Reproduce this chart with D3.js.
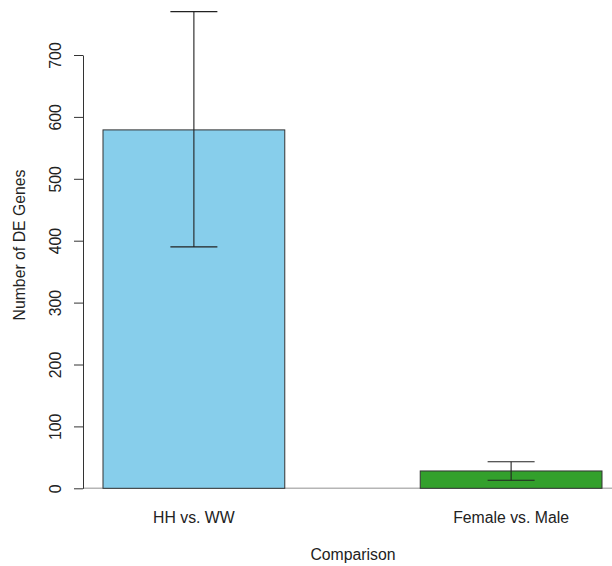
<!DOCTYPE html>
<html>
<head>
<meta charset="utf-8">
<script src="https://cdn.jsdelivr.net/npm/d3@7"></script>
<style>
  html, body { margin: 0; padding: 0; background: #fff; }
  svg text { font-family: "Liberation Sans", Arial, sans-serif; fill: #222; }
</style>
</head>
<body>
<svg id="chart" width="612" height="566"></svg>
<script>
// Differentially expressed gene counts per comparison, with error ranges
const categories = ["HH vs. WW", "Female vs. Male"];
const values = [579, 28];
const errLow = [390, 13];
const errHigh = [770, 43];
const colors = ["#87CEEB", "#33A02C"];
const yTicks = [0, 100, 200, 300, 400, 500, 600, 700];

const svg = d3.select("#chart");
const fontSize = 15.8;

// Plot region
const x0 = 83, x1 = 612;

const y = d3.scaleLinear().domain([0, 700]).range([488.3, 55]);

const x = d3.scaleBand()
  .domain(categories)
  .range([103, 602])
  .paddingInner(0.427)
  .paddingOuter(0);

// Baseline at zero
svg.append("line")
  .attr("x1", x0).attr("x2", x1)
  .attr("y1", y(0)).attr("y2", y(0))
  .attr("stroke", "#b5b5b5").attr("stroke-width", 1.5);

// Bars
svg.selectAll("rect.bar")
  .data(categories)
  .join("rect")
  .attr("class", "bar")
  .attr("x", d => x(d))
  .attr("width", x.bandwidth())
  .attr("y", (d, i) => y(values[i]))
  .attr("height", (d, i) => y(0) - y(values[i]))
  .attr("fill", (d, i) => colors[i])
  .attr("stroke", "#333")
  .attr("stroke-width", 1);

// Error bars
const capHalf = 23.5;
const eb = svg.selectAll("g.err")
  .data(categories)
  .join("g")
  .attr("class", "err")
  .attr("stroke", "#222")
  .attr("stroke-width", 1.1);

eb.append("line")
  .attr("x1", d => x(d) + x.bandwidth() / 2)
  .attr("x2", d => x(d) + x.bandwidth() / 2)
  .attr("y1", (d, i) => y(errLow[i]))
  .attr("y2", (d, i) => y(errHigh[i]));
eb.append("line")
  .attr("x1", d => x(d) + x.bandwidth() / 2 - capHalf)
  .attr("x2", d => x(d) + x.bandwidth() / 2 + capHalf)
  .attr("y1", (d, i) => y(errHigh[i]))
  .attr("y2", (d, i) => y(errHigh[i]));
eb.append("line")
  .attr("x1", d => x(d) + x.bandwidth() / 2 - capHalf)
  .attr("x2", d => x(d) + x.bandwidth() / 2 + capHalf)
  .attr("y1", (d, i) => y(errLow[i]))
  .attr("y2", (d, i) => y(errLow[i]));

// Y axis with rotated tick labels
const yAxis = svg.append("g")
  .attr("transform", `translate(${x0},0)`)
  .call(d3.axisLeft(y).tickValues(yTicks).tickSize(9).tickSizeOuter(0));
yAxis.select(".domain").attr("stroke", "#333");
yAxis.selectAll(".tick line").attr("stroke", "#333");
yAxis.selectAll(".tick text")
  .attr("x", 0).attr("y", 0).attr("dy", null)
  .attr("text-anchor", "middle")
  .attr("dominant-baseline", "central")
  .attr("transform", "translate(-27.5,0) rotate(-90)")
  .style("font-size", fontSize + "px")
  .style("font-family", "'Liberation Sans', Arial, sans-serif")
  .attr("fill", "#222");

// Category labels
svg.selectAll("text.cat")
  .data(categories)
  .join("text")
  .attr("class", "cat")
  .attr("x", d => x(d) + x.bandwidth() / 2)
  .attr("y", 522.5)
  .attr("text-anchor", "middle")
  .style("font-size", fontSize + "px")
  .text(d => d);

// Axis titles
svg.append("text")
  .attr("x", 353).attr("y", 560)
  .attr("text-anchor", "middle")
  .style("font-size", fontSize + "px")
  .text("Comparison");

svg.append("text")
  .attr("transform", "translate(19.5,245) rotate(-90)")
  .attr("text-anchor", "middle")
  .attr("dominant-baseline", "central")
  .style("font-size", fontSize + "px")
  .text("Number of DE Genes");
</script>
</body>
</html>
